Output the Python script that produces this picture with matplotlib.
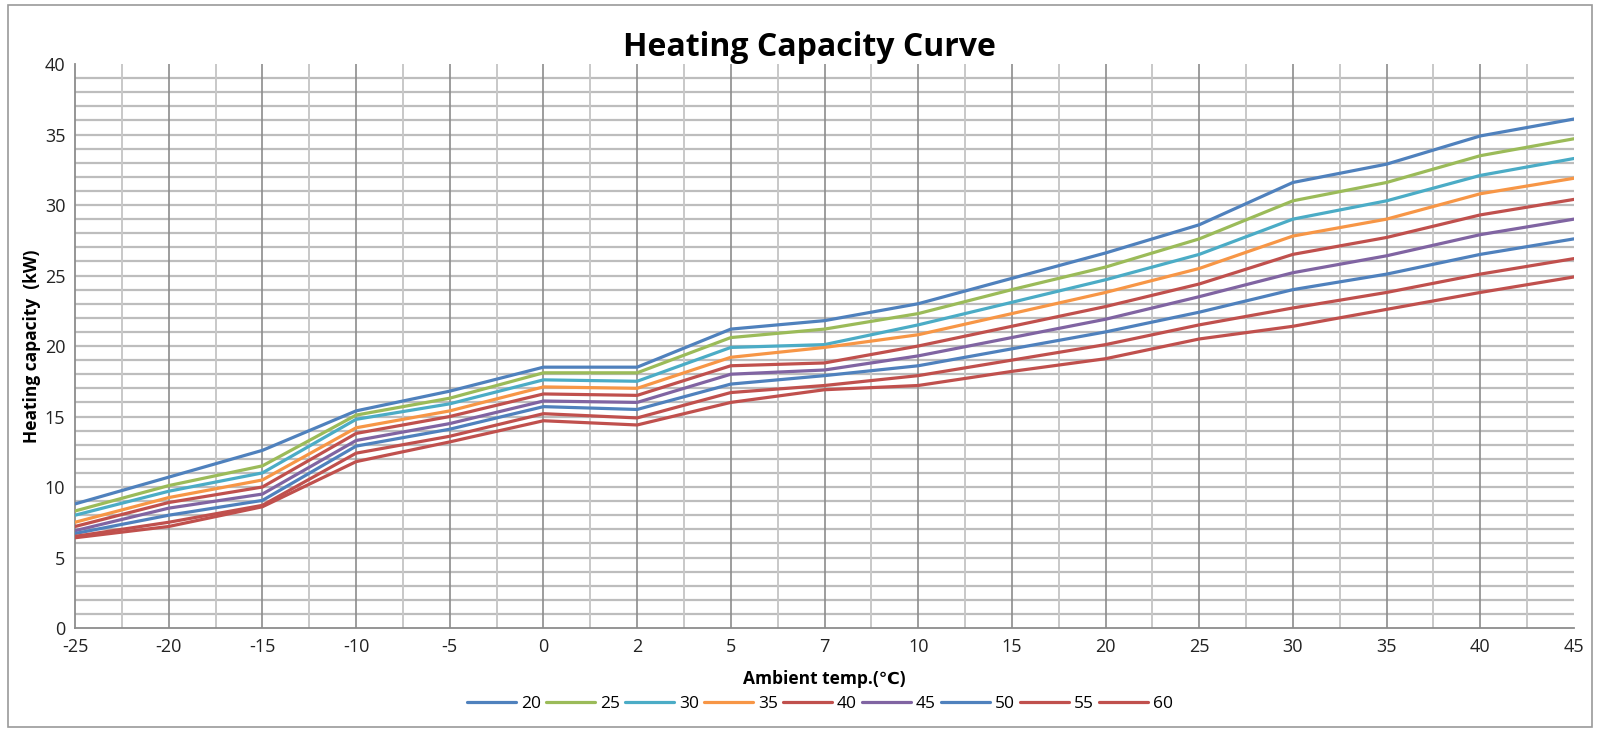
import matplotlib
matplotlib.use("Agg")
import matplotlib.pyplot as plt
from matplotlib.patches import Rectangle

categories = ["-25", "-20", "-15", "-10", "-5", "0", "2", "5", "7", "10",
              "15", "20", "25", "30", "35", "40", "45"]

s20 = [8.8, 10.7, 12.6, 15.4, 16.8, 18.5, 18.5, 21.2, 21.8, 23.0, 24.8, 26.6, 28.6, 31.6, 32.9, 34.9, 36.1]
s25 = [8.3, 10.1, 11.5, 15.1, 16.3, 18.1, 18.1, 20.6, 21.2, 22.3, 24.0, 25.6, 27.6, 30.3, 31.6, 33.5, 34.7]
s30 = [8.0, 9.7, 11.0, 14.8, 15.9, 17.6, 17.5, 19.9, 20.1, 21.5, 23.1, 24.7, 26.5, 29.0, 30.3, 32.1, 33.3]
s35 = [7.5, 9.25, 10.5, 14.2, 15.4, 17.1, 17.0, 19.2, 19.9, 20.8, 22.3, 23.8, 25.5, 27.8, 29.0, 30.8, 31.9]
s40 = [7.2, 8.9, 10.0, 13.8, 15.0, 16.6, 16.5, 18.6, 18.8, 20.0, 21.4, 22.8, 24.4, 26.5, 27.7, 29.3, 30.4]
s45 = [6.9, 8.5, 9.5, 13.3, 14.5, 16.1, 16.0, 18.0, 18.3, 19.3, 20.6, 21.9, 23.5, 25.2, 26.4, 27.9, 29.0]
s50 = [6.7, 8.0, 9.05, 12.9, 14.1, 15.7, 15.5, 17.3, 17.9, 18.6, 19.8, 21.0, 22.4, 24.0, 25.1, 26.5, 27.6]
s55 = [6.5, 7.5, 8.7, 12.4, 13.6, 15.2, 14.9, 16.7, 17.2, 17.9, 19.0, 20.1, 21.5, 22.7, 23.8, 25.1, 26.2]
s60 = [6.4, 7.2, 8.6, 11.8, 13.2, 14.7, 14.4, 16.0, 16.9, 17.2, 18.2, 19.1, 20.5, 21.4, 22.6, 23.8, 24.9]

series_labels = ["20", "25", "30", "35", "40", "45", "50", "55", "60"]
series_values = [s20, s25, s30, s35, s40, s45, s50, s55, s60]
series_colors = ["#4F81BD", "#9BBB59", "#4BACC6", "#F79646", "#C0504D",
                 "#8064A2", "#4F81BD", "#C0504D", "#C0504D"]

FONT = ["Open Sans", "DejaVu Sans"]
plt.rcParams["font.family"] = FONT

fig = plt.figure(figsize=(16, 7.31), dpi=100)
ax = fig.add_axes([0.0469, 0.1409, 0.98375 - 0.0469, 0.9124 - 0.1409])

x = list(range(len(categories)))
for lab, vals, col in zip(series_labels, series_values, series_colors):
    ax.plot(x, vals, color=col, lw=2.3, label=lab, solid_capstyle="round", zorder=3)

ax.set_xlim(0, len(categories) - 1)
ax.set_ylim(0, 40)
ax.set_xticks(x)
ax.set_xticklabels(categories)
ax.set_yticks(range(0, 41, 5))

# grid lines
for yv in range(1, 40):
    ax.axhline(yv, color="#BDBDBD", lw=1.6, zorder=1)
for xv in x[1:-1]:
    ax.axvline(xv, color="#8C8C8C", lw=1.2, zorder=1.5)
for i in range(len(categories) - 1):
    ax.axvline(i + 0.5, color="#C8C8C8", lw=1.4, zorder=1.2)

for side in ["top", "right"]:
    ax.spines[side].set_visible(False)
ax.spines["left"].set_color("#8C8C8C")
ax.spines["bottom"].set_color("#8C8C8C")
ax.spines["left"].set_linewidth(1.3)
ax.spines["bottom"].set_linewidth(1.3)
ax.tick_params(length=0, labelsize=13, colors="#222222", pad=7)

ax.set_title("Heating Capacity Curve", fontsize=23, fontweight="bold", pad=5, x=0.49)
ax.set_xlabel("Ambient temp.(\u2103)", fontsize=12.5, fontweight="bold", labelpad=10)
ax.set_ylabel("Heating capacity  (kW)", fontsize=12.5, fontweight="bold", labelpad=3)

leg = ax.legend(loc="upper center", bbox_to_anchor=(0.497, -0.092), ncol=9,
                frameon=False, fontsize=12.5, handlelength=2.8, handletextpad=0.3,
                columnspacing=0.3)

fig.patches.append(Rectangle((0.005, 0.005), 0.99, 0.988, transform=fig.transFigure,
                             fill=False, edgecolor="#9A9A9A", lw=1.2))

fig.savefig("out.png", dpi=100)
